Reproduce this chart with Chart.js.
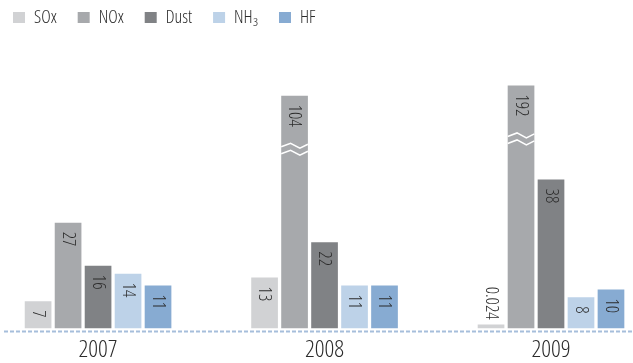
<!DOCTYPE html>
<html>
<head>
<meta charset="utf-8">
<script src="https://cdn.jsdelivr.net/npm/chart.js@4.4.1/dist/chart.umd.min.js"></script>
<style>
	html, body { margin: 0; padding: 0; background: #fff; }
	#wrap { position: relative; width: 633px; height: 363px; }
</style>
</head>
<body>
<div id="wrap"><canvas id="emissions"></canvas></div>
<script>
// Годы и выбросы по веществам
const years = [2007, 2008, 2009];
const sox = [7, 13, 0.024];
const nox = [27, 104, 192];
const dust = [16, 22, 38];
const nh3 = [14, 11, 8];
const hf = [11, 11, 10];

const seriesNames = ['SOx', 'NOx', 'Dust', 'NH₃', 'HF'];
const seriesData = [sox, nox, dust, nh3, hf];
const seriesColors = ['#d1d2d4', '#a7a9ac', '#808285', '#bdd2e8', '#87abd2'];

// Open Sans в светлом узком начертании (font-stretch передаем через weight,
// Chart.js просто подставляет его в строку шрифта)
const fontFamily = "'Open Sans', sans-serif";
const fontWeight = '350 condensed';

// Ось с разрывом: до BREAK_AT шкала обычная, выше - сжатая
const BREAK_AT = 58;
const LOWER_SHARE = 0.932;

class BrokenScale extends Chart.LinearScale {
	static id = 'broken';
	static defaults = Chart.LinearScale.defaults;

	getPixelForValue(value) {
		let share;
		if (value <= BREAK_AT) {
			share = value / BREAK_AT * LOWER_SHARE;
		} else {
			share = LOWER_SHARE + (value - BREAK_AT) / (this.max - BREAK_AT) * (1 - LOWER_SHARE);
		}
		return this.getPixelForDecimal(share);
	}

	getValueForPixel(pixel) {
		const share = this.getDecimalForPixel(pixel);
		if (share <= LOWER_SHARE) return share / LOWER_SHARE * BREAK_AT;
		return BREAK_AT + (share - LOWER_SHARE) / (1 - LOWER_SHARE) * (this.max - BREAK_AT);
	}
}
Chart.register(BrokenScale);

// Отступ под легендой
const legendGap = {
	id: 'legendGap',
	beforeInit(chart) {
		const fitLegend = chart.legend.fit;
		chart.legend.fit = function() {
			fitLegend.bind(chart.legend)();
			this.height += 48;
		};
	}
};

// Подписи значений на столбцах (повернуты) и знак разрыва
const barValues = {
	id: 'barValues',
	afterDatasetsDraw(chart) {
		const ctx = chart.ctx;
		ctx.save();
		ctx.font = fontWeight + ' 18px ' + fontFamily;
		ctx.fillStyle = '#2b2b2b';
		ctx.textBaseline = 'middle';
		chart.data.datasets.forEach((ds, i) => {
			chart.getDatasetMeta(i).data.forEach((bar, j) => {
				const value = ds.data[j];
				const text = String(value);
				const len = ctx.measureText(text).width;
				const h = bar.base - bar.y;

				// зигзаг на "разорванных" столбцах
				if (value > BREAK_AT) {
					const left = bar.x - bar.width / 2;
					const w = bar.width;
					ctx.save();
					ctx.strokeStyle = '#fff';
					ctx.lineWidth = 1.5;
					[bar.y + 50, bar.y + 57].forEach(y0 => {
						ctx.beginPath();
						ctx.moveTo(left, y0 + 1);
						ctx.lineTo(left + w * 0.35, y0 - 2.5);
						ctx.lineTo(left + w * 0.7, y0 + 2.5);
						ctx.lineTo(left + w, y0 - 1.5);
						ctx.stroke();
					});
					ctx.restore();
				}

				ctx.save();
				if (h > len + 14) {
					ctx.translate(bar.x, bar.y + 9);
					ctx.textAlign = 'left';
				} else {
					ctx.translate(bar.x, bar.y - 5);
					ctx.textAlign = 'right';
				}
				ctx.rotate(Math.PI / 2);
				ctx.fillText(text, 0, 0);
				ctx.restore();
			});
		});
		ctx.restore();
	}
};

// Пунктирная линия под столбцами
const baseLine = {
	id: 'baseLine',
	afterDraw(chart) {
		const ctx = chart.ctx;
		const y = chart.chartArea.bottom + 3;
		ctx.save();
		ctx.strokeStyle = '#a6bedb';
		ctx.lineWidth = 2;
		ctx.setLineDash([4, 2]);
		ctx.beginPath();
		ctx.moveTo(4, y);
		ctx.lineTo(chart.width, y);
		ctx.stroke();
		ctx.restore();
	}
};

const dataDiagram = {
	labels: years,
	datasets: seriesNames.map((name, i) => ({
		label: name,
		data: seriesData[i],
		backgroundColor: seriesColors[i],
		borderColor: seriesColors[i],
		borderWidth: 0,
		minBarLength: 4,
		categoryPercentage: 0.662,
		barPercentage: 0.89
	}))
};

const config = {
	type: 'bar',
	data: dataDiagram,
	options: {
		responsive: true,
		maintainAspectRatio: false,
		animation: false,
		layout: {
			padding: { left: -8, top: -12.5, right: 0, bottom: -9.4 }
		},
		scales: {
			x: {
				type: 'linear',
				min: 2006.567,
				max: 2009.362,
				offset: false,
				grid: { display: false, drawTicks: false, offset: false },
				border: { display: false },
				ticks: {
					stepSize: 1,
					includeBounds: false,
					padding: 7.5,
					color: '#2b2b2b',
					font: { family: fontFamily, weight: fontWeight, size: 24 },
					callback: value => String(value)
				}
			},
			y: {
				type: 'broken',
				min: 0,
				max: 200,
				display: false
			}
		},
		plugins: {
			legend: {
				position: 'top',
				align: 'start',
				labels: {
					boxWidth: 12,
					boxHeight: 11,
					padding: 21,
					color: '#2b2b2b',
					font: { family: fontFamily, weight: fontWeight, size: 18 }
				}
			},
			tooltip: { enabled: false }
		}
	},
	plugins: [legendGap, barValues, baseLine]
};

const emissionsChart = new Chart(document.getElementById('emissions'), config);
</script>
</body>
</html>
